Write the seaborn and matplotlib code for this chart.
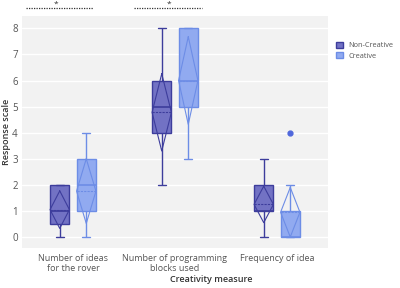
import seaborn as sns
import matplotlib.pyplot as plt
import matplotlib.patches as mpatches
import pandas as pd

# categories / groups
measures = ["Number of ideas\nfor the rover", "Number of programming\nblocks used", "Frequency of idea"]
groups = ["Non-Creative", "Creative"]

# responses (five-number summaries, plus the outlier)
ideas_nc = [0, 0.5, 1, 2, 2]
ideas_c = [0, 1, 2, 3, 4]
blocks_nc = [2, 4, 5, 6, 8]
blocks_c = [3, 5, 6, 8, 8]
freq_nc = [0, 1, 1, 2, 3]
freq_c = [0, 0, 0, 0, 0, 1, 1, 2, 4]

# mean and sd for the diamonds
mean_nc = [1.05, 4.78, 1.25]
mean_c = [1.76, 6.0, 0.95]
sd_nc = [0.72, 1.48, 0.70]
sd_c = [1.24, 1.68, 0.95]

fill_colors = ["#7272c4", "#91aaf0"]
line_colors = ["#3d3d9c", "#6d8de6"]

rows = []
for m, g, vals in [(measures[0], groups[0], ideas_nc), (measures[0], groups[1], ideas_c),
                   (measures[1], groups[0], blocks_nc), (measures[1], groups[1], blocks_c),
                   (measures[2], groups[0], freq_nc), (measures[2], groups[1], freq_c)]:
    for v in vals:
        rows.append({"measure": m, "group": g, "response": v})
df = pd.DataFrame(rows)

sns.set_style("white")
plt.rcParams["font.family"] = ["Open Sans", "DejaVu Sans"]

fig = plt.figure(figsize=(4, 2.88), dpi=100)
ax = fig.add_axes([0.055, 0.139, 0.765, 0.805])
ax.set_facecolor("#f2f2f2")
ax.grid(axis="y", color="white", linewidth=1)
ax.set_axisbelow(True)

sns.boxplot(data=df, x="measure", y="response", hue="group", order=measures,
            hue_order=groups, palette=fill_colors, width=0.52, gap=0.27,
            saturation=1, linewidth=1, legend=False, ax=ax,
            flierprops=dict(marker="o", markersize=3.5))

means = [mean_nc, mean_c]
sds = [sd_nc, sd_c]
for k, cont in enumerate(ax.containers):
    lc = line_colors[k]
    for i, box in enumerate(cont.boxes):
        box.set_facecolor(fill_colors[k])
        box.set_edgecolor(lc)
        xs = box.get_path().vertices[:, 0]
        x0, x1 = xs.min(), xs.max()
        xc = (x0 + x1) / 2
        mu, sd = means[k][i], sds[k][i]
        ax.plot([xc, x1, xc, x0, xc], [mu + sd, mu, mu - sd, mu, mu + sd],
                color=lc, lw=0.8, zorder=5)
        ax.plot([x0, x1], [mu, mu], color=lc, lw=0.8, ls=(0, (2, 1)), zorder=5)
    for ln in cont.medians:
        ln.set_color(lc)
        ln.set_linewidth(1.2)
    for ln in cont.whiskers:
        ln.set_color(lc)
    for ln in cont.caps:
        ln.set_color(lc)
        xd = ln.get_xdata()
        c = (xd[0] + xd[1]) / 2
        ln.set_xdata([c - 0.04, c + 0.04])
    for ln in cont.fliers:
        ln.set_markerfacecolor("#5068dc")
        ln.set_markeredgecolor("#5068dc")

ax.set_ylim(-0.42, 8.47)
ax.set_xlim(-0.5, 2.5)
ax.set_yticks(range(0, 9))
sns.despine(ax=ax, left=True, bottom=True)
ax.tick_params(axis="both", length=0, colors="#555555", labelsize=7, pad=3)
ax.tick_params(axis="x", labelsize=6.5, pad=4)
ax.set_ylabel("Response scale", fontsize=6.5, color="#333333", fontweight="semibold")
ax.set_xlabel("Creativity measure", fontsize=6.5, color="#333333", fontweight="semibold")
ax.xaxis.set_label_coords(0.62, -0.118)
ax.yaxis.set_label_coords(-0.037, 0.5)

# significance markers above the plot
for xa, xb, xs in [(0.013, 0.232, 0.111), (0.366, 0.588, 0.48)]:
    ax.plot([xa, xb], [1.035, 1.035], transform=ax.transAxes, clip_on=False,
            color="#333333", lw=0.9, ls=(0, (1, 1)))
    ax.text(xs, 1.052, "*", transform=ax.transAxes, ha="center", va="center",
            fontsize=6, color="#333333")

handles = [mpatches.Patch(facecolor=fill_colors[i], edgecolor=line_colors[i], label=groups[i])
           for i in range(2)]
fig.legend(handles=handles, loc="upper left", bbox_to_anchor=(0.84, 0.855), frameon=False,
           fontsize=5.3, handlelength=0.9, handleheight=0.9, labelcolor="#555555",
           borderaxespad=0, borderpad=0, labelspacing=0.35, handletextpad=0.8)

fig.savefig("out.png", dpi=100)
